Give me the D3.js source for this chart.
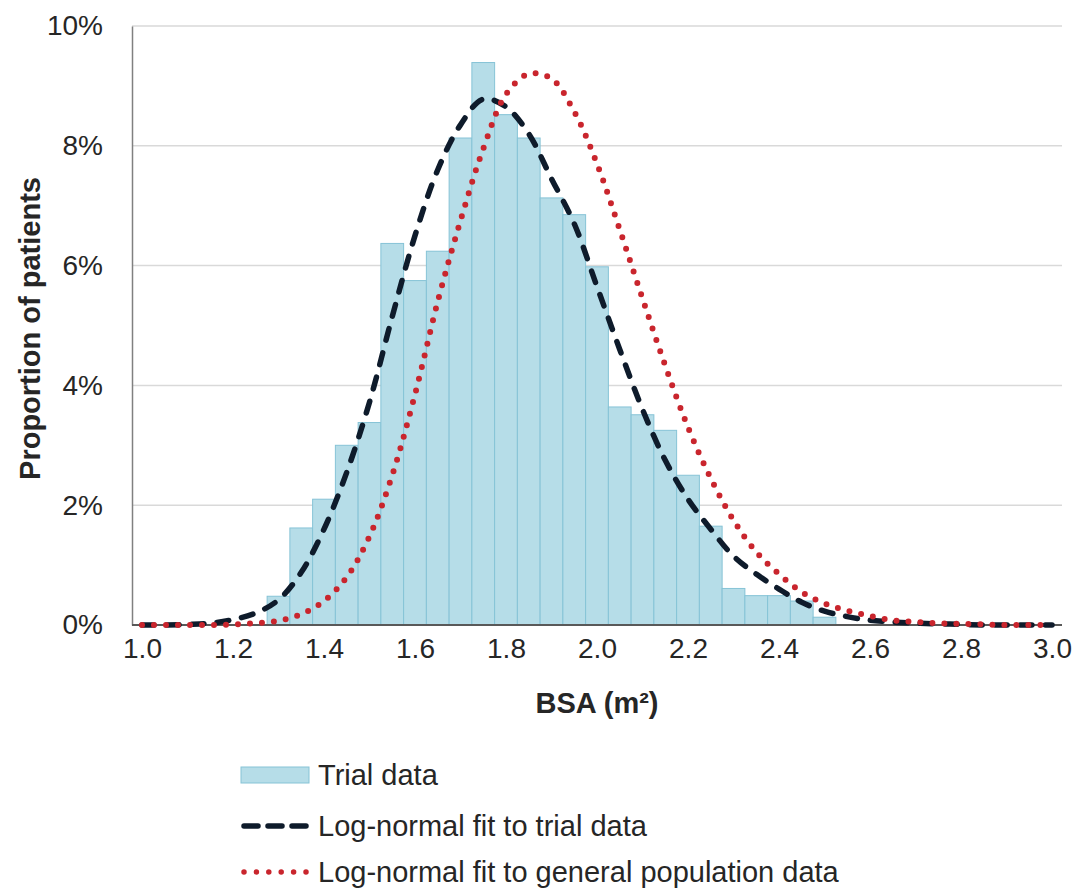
<!DOCTYPE html>
<html>
<head>
<meta charset="utf-8">
<script src="https://cdn.jsdelivr.net/npm/d3@7"></script>
<style>
  html, body { margin: 0; padding: 0; background: #ffffff; }
  svg { display: block; font-family: "Liberation Sans", Arial, sans-serif; }
</style>
</head>
<body>
<svg id="chart" width="1077" height="889"></svg>
<script>
// Histogram of body surface area (bin centres in m², bin width 0.05)
const binCenters = [1.30, 1.35, 1.40, 1.45, 1.50, 1.55, 1.60, 1.65, 1.70, 1.75,
                    1.80, 1.85, 1.90, 1.95, 2.00, 2.05, 2.10, 2.15, 2.20, 2.25,
                    2.30, 2.35, 2.40, 2.45, 2.50];
const trialPct = [0.48, 1.62, 2.10, 3.00, 3.38, 6.37, 5.75, 6.24, 8.13, 9.39,
                  8.52, 8.13, 7.13, 6.85, 5.98, 3.64, 3.51, 3.25, 2.50, 1.65,
                  0.61, 0.49, 0.49, 0.40, 0.13];
const binWidth = 0.05;

// Fitted curves (% of patients per bin) sampled along BSA
const fitX = [1.00, 1.05, 1.10, 1.15, 1.20, 1.25, 1.30, 1.35, 1.40, 1.45,
              1.50, 1.55, 1.60, 1.65, 1.70, 1.75, 1.80, 1.85, 1.90, 1.95,
              2.00, 2.05, 2.10, 2.15, 2.20, 2.25, 2.30, 2.35, 2.40, 2.45,
              2.50, 2.55, 2.60, 2.65, 2.70, 2.75, 2.80, 2.85, 2.90, 2.95, 3.00];
const trialFit = [0, 0, 0.01, 0.03, 0.09, 0.20, 0.42, 0.88, 1.60, 2.55,
                  3.72, 5.15, 6.50, 7.60, 8.35, 8.78, 8.65, 8.20, 7.45, 6.70,
                  5.65, 4.60, 3.60, 2.75, 2.10, 1.60, 1.15, 0.85, 0.60, 0.38,
                  0.23, 0.14, 0.08, 0.05, 0.03, 0.02, 0.01, 0, 0, 0, 0];
const populationFit = [0, 0, 0, 0, 0.01, 0.03, 0.07, 0.18, 0.40, 0.80,
                       1.48, 2.50, 3.85, 5.40, 6.75, 7.95, 8.86, 9.20, 9.12, 8.57,
                       7.70, 6.60, 5.45, 4.33, 3.30, 2.45, 1.75, 1.22, 0.85, 0.55,
                       0.36, 0.24, 0.15, 0.08, 0.05, 0.03, 0.02, 0.01, 0, 0, 0];

const xTicks = [1.0, 1.2, 1.4, 1.6, 1.8, 2.0, 2.2, 2.4, 2.6, 2.8, 3.0];
const yTicks = [0, 2, 4, 6, 8, 10];

const legendLabels = ["Trial data", "Log-normal fit to trial data",
                      "Log-normal fit to general population data"];

const barFill = "#b6dde8", barStroke = "#86c3d6";
const dashColor = "#0e1b2b", dotColor = "#c9252d";
const textColor = "#262626";
const fontFamily = "Liberation Sans, Arial, sans-serif";

const plotLeft = 132, plotRight = 1062, plotTop = 26, plotBottom = 625;

const svg = d3.select("#chart");

const x = d3.scaleLinear().domain([1.0, 3.0]).range([142, 1052]);
const y = d3.scaleLinear().domain([0, 10]).range([plotBottom, plotTop]);

// Horizontal gridlines
svg.append("g")
  .selectAll("line")
  .data(yTicks.filter(d => d > 0))
  .join("line")
  .attr("x1", plotLeft).attr("x2", plotRight)
  .attr("y1", d => y(d)).attr("y2", d => y(d))
  .attr("stroke", "#d9d9d9").attr("stroke-width", 1.5);

// Histogram bars
svg.append("g")
  .selectAll("rect")
  .data(binCenters.map((c, i) => ({ c, v: trialPct[i] })))
  .join("rect")
  .attr("x", d => x(d.c - binWidth / 2))
  .attr("width", d => x(d.c + binWidth / 2) - x(d.c - binWidth / 2))
  .attr("y", d => y(d.v))
  .attr("height", d => y(0) - y(d.v))
  .attr("fill", barFill)
  .attr("stroke", barStroke)
  .attr("stroke-width", 1);

// Axes
const yAxis = d3.axisLeft(y).tickValues(yTicks).tickSize(0).tickPadding(29)
  .tickFormat(d => d + "%");
const yG = svg.append("g").attr("transform", `translate(${plotLeft},0)`).call(yAxis);
yG.select(".domain").attr("stroke", "#808080").attr("stroke-width", 1.5);
yG.selectAll("text").attr("font-size", 28).attr("fill", textColor)
  .attr("font-family", fontFamily);

const xAxis = d3.axisBottom(x).tickValues(xTicks).tickSize(0).tickPadding(13)
  .tickFormat(d3.format(".1f"));
const xG = svg.append("g").attr("transform", `translate(0,${plotBottom})`).call(xAxis);
xG.select(".domain").remove();
xG.selectAll("text").attr("font-size", 28).attr("fill", textColor)
  .attr("font-family", fontFamily);
svg.append("line")
  .attr("x1", plotLeft).attr("x2", plotRight)
  .attr("y1", plotBottom).attr("y2", plotBottom)
  .attr("stroke", "#595959").attr("stroke-width", 2);

// Fitted curves
const line = d3.line()
  .x(d => x(d[0]))
  .y(d => y(Math.max(0, d[1])))
  .curve(d3.curveCatmullRom.alpha(0.5));

svg.append("path")
  .datum(fitX.map((v, i) => [v, trialFit[i]]))
  .attr("d", line)
  .attr("fill", "none")
  .attr("stroke", dashColor)
  .attr("stroke-width", 5.5)
  .attr("stroke-linecap", "round")
  .attr("stroke-dasharray", "12 13");

svg.append("path")
  .datum(fitX.map((v, i) => [v, populationFit[i]]))
  .attr("d", line)
  .attr("fill", "none")
  .attr("stroke", dotColor)
  .attr("stroke-width", 6)
  .attr("stroke-linecap", "round")
  .attr("stroke-dasharray", "0 12");

// Axis titles
svg.append("text")
  .attr("x", (plotLeft + plotRight) / 2).attr("y", 713)
  .attr("text-anchor", "middle")
  .attr("font-size", 29).attr("font-weight", "bold").attr("fill", textColor)
  .text("BSA (m²)");

svg.append("text")
  .attr("transform", `translate(40,${(plotTop + plotBottom) / 2 + 3}) rotate(-90)`)
  .attr("text-anchor", "middle")
  .attr("font-size", 29).attr("font-weight", "bold").attr("fill", textColor)
  .text("Proportion of patients");

// Legend
const legend = svg.append("g");
const rowY = [775, 826, 872];
const swX0 = 241, swX1 = 309, labelX = 318;

legend.append("rect")
  .attr("x", swX0).attr("y", rowY[0] - 8).attr("width", swX1 - swX0).attr("height", 16)
  .attr("fill", barFill).attr("stroke", barStroke).attr("stroke-width", 1);

legend.append("line")
  .attr("x1", swX0 + 3).attr("x2", swX1 - 3).attr("y1", rowY[1]).attr("y2", rowY[1])
  .attr("stroke", dashColor).attr("stroke-width", 5.5).attr("stroke-linecap", "round")
  .attr("stroke-dasharray", "14 10");

legend.append("line")
  .attr("x1", swX0 + 3).attr("x2", swX1 - 3).attr("y1", rowY[2]).attr("y2", rowY[2])
  .attr("stroke", dotColor).attr("stroke-width", 5.5).attr("stroke-linecap", "round")
  .attr("stroke-dasharray", "0 12.4");

legend.selectAll("text")
  .data(legendLabels)
  .join("text")
  .attr("x", labelX)
  .attr("y", (d, i) => rowY[i])
  .attr("dy", "0.35em")
  .attr("font-size", 29).attr("fill", textColor)
  .text(d => d);
</script>
</body>
</html>
